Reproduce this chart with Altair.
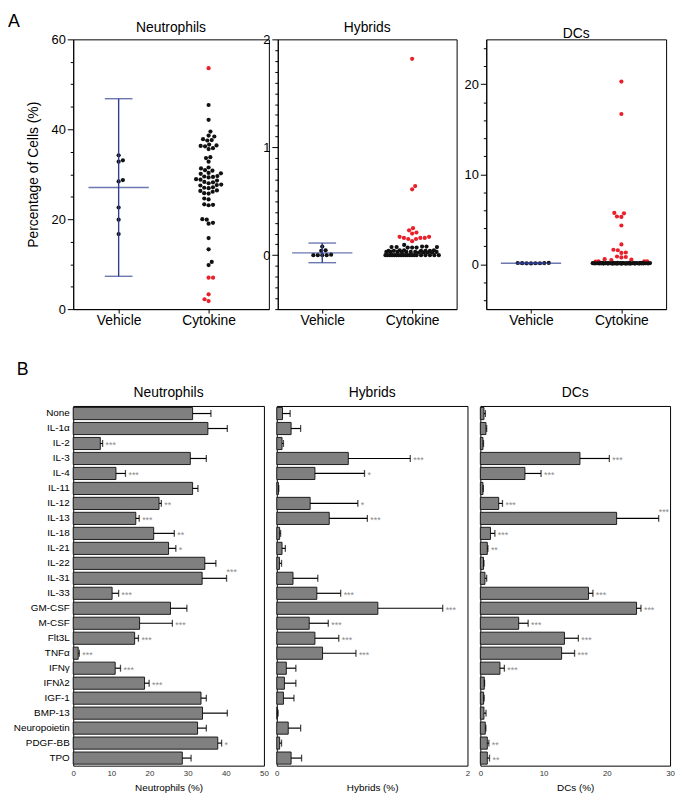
import json
import numpy as np
import pandas as pd
import altair as alt

FONT = "Liberation Sans"

# ---------------- Panel A data (percentage of cells per sample) ----------------
groups = ["Vehicle", "Cytokine"]

neut_vehicle = [34.2, 33.1, 32.8, 28.7, 28.4, 22.6, 19.9, 16.7]
neut_cytokine = [53.6, 45.4, 42.1, 39.5, 38.6, 38.4, 37.8, 37.6, 37.5, 36.6, 36.4, 36.3,
                 36.2, 35.8, 35.6, 33.8, 33.6, 32.8, 31.5, 31.3, 30.9, 30.8, 30.3, 30.2,
                 30.1, 29.6, 29.5, 29.4, 29.3, 28.9, 28.8, 28.6, 28.3, 28.2, 28.0, 27.7,
                 27.6, 27.5, 27.1, 27.0, 26.9, 26.4, 26.3, 26.1, 25.8, 25.7, 24.6, 24.4,
                 23.3, 23.2, 23.1, 20.0, 19.9, 19.2, 19.0, 15.8, 13.3, 10.5, 9.8, 7.0,
                 7.0, 3.3, 2.2, 1.8]

hyb_vehicle = [0.08, 0.045, 0.04, 0.005, 0.0, 0.0, 0.0, 0.0]
hyb_cytokine = [1.82, 0.64, 0.61, 0.25, 0.23, 0.21, 0.20, 0.17, 0.17, 0.16, 0.16, 0.16,
                0.15, 0.15, 0.13, 0.095, 0.08, 0.075, 0.075, 0.07, 0.07, 0.07, 0.075,
                0.08, 0.045, 0.04, 0.04, 0.04, 0.045, 0.04, 0.04, 0.045, 0.03, 0.03,
                0.025, 0.03, 0.025, 0.03, 0.03, 0.025, 0.03, 0.03, 0.025, 0.03,
                0.0, 0.0, 0.0, 0.0, 0.0, 0.0, 0.0, 0.0, 0.0, 0.0, 0.0, 0.0, 0.0, 0.0,
                0.0, 0.0, 0.0, 0.0, 0.0, 0.0]

dc_vehicle = [0.10, 0.12, 0.08, 0.10, 0.14, 0.09, 0.11, 0.13]
dc_cytokine = [20.3, 16.7, 5.7, 5.65, 5.3, 5.25, 4.3, 2.2, 1.6, 1.55, 1.3, 1.25, 0.85,
               0.8, 0.75, 0.55, 0.5, 0.45, 0.32, 0.3, 0.3, 0.28,
               0.05, 0.06, 0.07, 0.08, 0.09, 0.10, 0.11, 0.12, 0.13, 0.14, 0.15, 0.16,
               0.06, 0.07, 0.08, 0.09, 0.10, 0.11, 0.12, 0.13, 0.14, 0.15, 0.05, 0.08,
               0.10, 0.12, 0.09, 0.11, 0.07, 0.13, 0.06, 0.14, 0.10, 0.12, 0.08, 0.11,
               0.09, 0.15, 0.10, 0.07, 0.12, 0.13]

# ---------------- Panel B data (mean and SEM per cytokine) ----------------
cats = ["None", "IL-1α", "IL-2", "IL-3", "IL-4", "IL-11", "IL-12", "IL-13", "IL-18",
        "IL-21", "IL-22", "IL-31", "IL-33", "GM-CSF", "M-CSF", "Flt3L", "TNFα", "IFNγ",
        "IFNλ2", "IGF-1", "BMP-13", "Neuropoietin", "PDGF-BB", "TPO"]

neut_mean = [31.3, 35.3, 7.1, 30.7, 11.2, 31.3, 22.5, 16.4, 21.1, 25.0, 34.5, 33.8,
             10.2, 25.5, 17.4, 16.1, 1.3, 11.0, 18.7, 33.5, 33.9, 32.6, 37.9, 28.6]
neut_sem = [4.8, 5.1, 0.6, 4.2, 2.5, 1.4, 0.6, 0.9, 5.4, 1.9, 2.9, 6.4,
            1.7, 4.3, 8.6, 1.0, 0.3, 1.4, 1.2, 1.4, 6.5, 2.3, 1.0, 2.3]
neut_sig = ["", "", "***", "", "***", "", "**", "***", "**", "*", "", "***",
            "***", "", "***", "***", "***", "***", "***", "", "", "", "*", ""]

hyb_mean = [0.06, 0.15, 0.055, 0.75, 0.40, 0.017, 0.35, 0.55, 0.03, 0.055, 0.028, 0.17,
            0.42, 1.06, 0.34, 0.40, 0.48, 0.10, 0.08, 0.07, 0.007, 0.12, 0.03, 0.15]
hyb_sem = [0.08, 0.10, 0.015, 0.65, 0.52, 0.004, 0.50, 0.40, 0.01, 0.035, 0.022, 0.26,
           0.25, 0.68, 0.20, 0.25, 0.35, 0.10, 0.12, 0.11, 0.007, 0.13, 0.02, 0.11]
hyb_sig = ["", "", "", "***", "*", "", "*", "***", "", "", "", "",
           "***", "***", "***", "***", "***", "", "", "", "", "", "", ""]

dc_mean = [0.57, 0.88, 0.41, 15.75, 7.05, 0.41, 2.9, 21.55, 1.6, 1.1, 0.5, 0.73,
           17.1, 24.7, 6.06, 13.3, 12.85, 3.1, 0.62, 0.52, 0.57, 0.78, 1.1, 1.1]
dc_sem = [0.23, 0.12, 0.09, 4.65, 2.55, 0.06, 0.6, 6.65, 0.7, 0.1, 0.07, 0.27,
          0.7, 0.7, 1.5, 2.2, 2.05, 0.7, 0.05, 0.08, 0.33, 0.1, 0.25, 0.35]
dc_sig = ["", "", "", "***", "***", "", "***", "***", "***", "**", "", "",
          "***", "***", "***", "***", "***", "***", "", "", "", "", "**", "**"]

# significance labels drawn above the error bar instead of beside it
sig_above = {("Neutrophils", "IL-31"), ("DCs", "IL-13")}

# ---------------- styling ----------------
NAVY = "#2f3d8f"
RED = "#e8202a"
DOT = "#111111"
H_A = 273
H_B = 364
DOT_D = 4.5


def beeswarm(vals, px_per_unit, d, cap):
    ys = np.asarray(vals, float) * px_per_unit
    order = np.argsort(ys, kind="stable")
    xs = np.zeros(len(ys))
    placed = []
    for k, i in enumerate(order):
        y = ys[i]
        near = [(px, py) for px, py in placed if abs(py - y) < d]
        cands = [0.0]
        for px, py in near:
            dx = float(np.sqrt(d * d - (py - y) ** 2))
            cands += [px + dx, px - dx]

        def ok(c):
            return abs(c) <= cap + 1e-9 and all(
                (c - px) ** 2 + (y - py) ** 2 >= d * d - 1e-6 for px, py in near)

        good = [c for c in cands if ok(c)]
        sgn = 1 if k % 2 else -1
        if good:
            x = min(good, key=lambda c: (round(abs(c), 3), sgn * c))
        else:
            grid = np.linspace(-cap, cap, 121)
            score = [min(np.hypot(g - px, y - py) for px, py in near) for g in grid]
            x = float(grid[int(np.argmax(score))])
        xs[i] = x
        placed.append((x, y))
    return xs


def scatter_panel(name, vehicle, cytokine, ydom, major, minor, width, xdom, cap, ytitle):
    px_y = H_A / (ydom[1] - ydom[0])
    px_x = width / (xdom[1] - xdom[0])
    veh = np.array(vehicle, float)
    cyt = np.array(cytokine, float)
    m = veh.mean()
    s = veh.std(ddof=1)
    lo, hi = m - 3 * s, m + 3 * s
    rows = []
    for gi, vals in enumerate([veh, cyt]):
        offs = beeswarm(vals, px_y, DOT_D, cap)
        for v, o in zip(vals, offs):
            out = gi == 1 and (v > hi or v < lo)
            rows.append({"x": gi + o / px_x, "v": float(v), "flag": "out" if out else "in"})
    df = pd.DataFrame(rows)
    summ = pd.DataFrame([{"x": 0.0, "mean": m, "lo": lo, "hi": hi}])

    start = np.ceil(ydom[0] / minor - 1e-9) * minor
    ticks = [float(np.round(t, 6)) + 0.0
             for t in np.arange(start, ydom[1] + minor / 2, minor)]
    test = f"abs(datum.value/{major} - round(datum.value/{major})) < 0.001"

    yaxis = alt.Axis(values=ticks, tickCount=len(ticks) + 5,
                     labelExpr=f"({test}) ? format(round(datum.value), 'd') : ''",
                     tickSize={"condition": {"test": test, "value": 6}, "value": 3},
                     labelFontSize=13, labelPadding=2, labelOverlap=False,
                     grid=False, title=ytitle if ytitle else None, titleFontSize=14,
                     titleFontWeight="normal", titlePadding=11)
    xaxis = alt.Axis(values=[0, 1], tickCount=5,
                     labelExpr=f"{json.dumps(groups)}[datum.value]",
                     tickSize=4, labelFontSize=14, labelPadding=1, grid=False,
                     title=None, labelOverlap=False, labelFlush=False)
    xs = alt.Scale(domain=list(xdom), nice=False, zero=False)
    ysc = alt.Scale(domain=list(ydom), nice=False, zero=False)

    pts = alt.Chart(df).mark_circle(size=18, opacity=1).encode(
        x=alt.X("x:Q", scale=xs, axis=xaxis),
        y=alt.Y("v:Q", scale=ysc, axis=yaxis),
        color=alt.Color("flag:N", scale=alt.Scale(domain=["in", "out"], range=[DOT, RED]),
                        legend=None),
    )
    sb = alt.Chart(summ)
    mean_t = sb.mark_tick(orient="horizontal", size=61, thickness=1.4, color=NAVY).encode(
        x="x:Q", y="mean:Q")
    vline = sb.mark_rule(color=NAVY, strokeWidth=1.4).encode(x="x:Q", y="lo:Q", y2="hi:Q")
    cap_hi = sb.mark_tick(orient="horizontal", size=28, thickness=1.4, color=NAVY).encode(
        x="x:Q", y="hi:Q")
    cap_lo = sb.mark_tick(orient="horizontal", size=28, thickness=1.4, color=NAVY).encode(
        x="x:Q", y="lo:Q")
    return alt.layer(pts, mean_t, vline, cap_hi, cap_lo).properties(
        width=width, height=H_A,
        title=alt.TitleParams(name, fontSize=14, fontWeight="normal", offset=-2,
                              frame="group"))


def bar_panel(name, means, sems, sigs, xmax, step, width, show_y):
    df = pd.DataFrame({
        "cat": cats, "mean": means,
        "upper": [a + b for a, b in zip(means, sems)],
        "sig": sigs,
        "above": [1 if (name, c) in sig_above else 0 for c in cats],
    })
    base = alt.Chart(df)
    ysc = alt.Scale(paddingInner=0.19, paddingOuter=0.1)
    if show_y:
        yax = alt.Axis(labelFontSize=10, ticks=False, labelPadding=4, domain=False,
                       title=None)
    else:
        yax = None
    y = alt.Y("cat:N", sort=cats, scale=ysc, axis=yax, title=None)
    xsc = alt.Scale(domain=[0, xmax], nice=False, zero=True)
    xvals = list(range(0, xmax + 1, step))
    xax = alt.Axis(values=xvals, tickCount=len(xvals) + 5, format="d", ticks=False,
                   labelFontSize=8, labelColor="#333333", labelPadding=4, domain=False,
                   grid=False, labelOverlap=False, labelFlush=False,
                   title=f"{name} (%)", titleFontSize=10, titleFontWeight="normal",
                   titlePadding=5)
    bars = base.mark_bar(color="#808080", stroke="#1c1c1c", strokeWidth=1).encode(
        x=alt.X("mean:Q", scale=xsc, axis=xax), y=y)
    err = base.mark_rule(color="#000000", strokeWidth=1.2).encode(
        x="mean:Q", x2="upper:Q", y=y)
    capm = base.mark_tick(color="#000000", size=7, thickness=1.3).encode(x="upper:Q", y=y)
    t_side = base.transform_filter("datum.sig != '' && datum.above == 0").mark_text(
        align="left", baseline="middle", dx=3, dy=2, fontSize=9, color="#8a8a8a",
        font=FONT).encode(x="upper:Q", y=y, text="sig:N")
    t_up = base.transform_filter("datum.sig != '' && datum.above == 1").mark_text(
        align="left", baseline="middle", dx=0, dy=-6, fontSize=9, color="#8a8a8a",
        font=FONT).encode(x="upper:Q", y=y, text="sig:N")
    return alt.layer(bars, err, capm, t_side, t_up).properties(
        width=width, height=H_B,
        title=alt.TitleParams(name, fontSize=14, fontWeight="normal", offset=6))


nA = scatter_panel("Neutrophils", neut_vehicle, neut_cytokine, (0, 60), 20, 5, 198,
                   (-0.505, 1.67), 30, "Percentage of Cells (%)")
hA = scatter_panel("Hybrids", hyb_vehicle, hyb_cytokine, (-0.5, 2), 1, 0.1, 181,
                   (-0.495, 1.495), 27, None)
dA = scatter_panel("DCs", dc_vehicle, dc_cytokine, (-5, 25), 10, 2, 182,
                   (-0.495, 1.495), 29, None)

rowA = alt.hconcat(
    alt.hconcat(nA, hA, spacing=9, bounds="flush"), dA, spacing=6,
    title=alt.TitleParams("A", orient="left", anchor="end", angle=0, baseline="top",
                          align="left", fontSize=18, fontWeight="normal", offset=6,
                          dy=-8))

nB = bar_panel("Neutrophils", neut_mean, neut_sem, neut_sig, 50, 10, 193, True)
hB = bar_panel("Hybrids", hyb_mean, hyb_sem, hyb_sig, 2, 1, 193, False)
dB = bar_panel("DCs", dc_mean, dc_sem, dc_sig, 30, 10, 192, False)

rowB = alt.hconcat(nB, hB, dB, spacing=13, bounds="flush",
                   title=alt.TitleParams("B", anchor="start", fontSize=18,
                                         fontWeight="normal", offset=7, dx=4))

chart = alt.vconcat(rowA, rowB, spacing=32).properties(padding=0).configure(
    font=FONT
).configure_view(stroke="#000000", strokeWidth=1).configure_axis(
    labelFont=FONT, titleFont=FONT, labelColor="#000000", titleColor="#000000",
    domainColor="#000000", tickColor="#000000", domainWidth=1, tickWidth=1
).configure_title(font=FONT, color="#000000")

chart.save("out.html", embed_options={"renderer": "svg", "actions": False})
